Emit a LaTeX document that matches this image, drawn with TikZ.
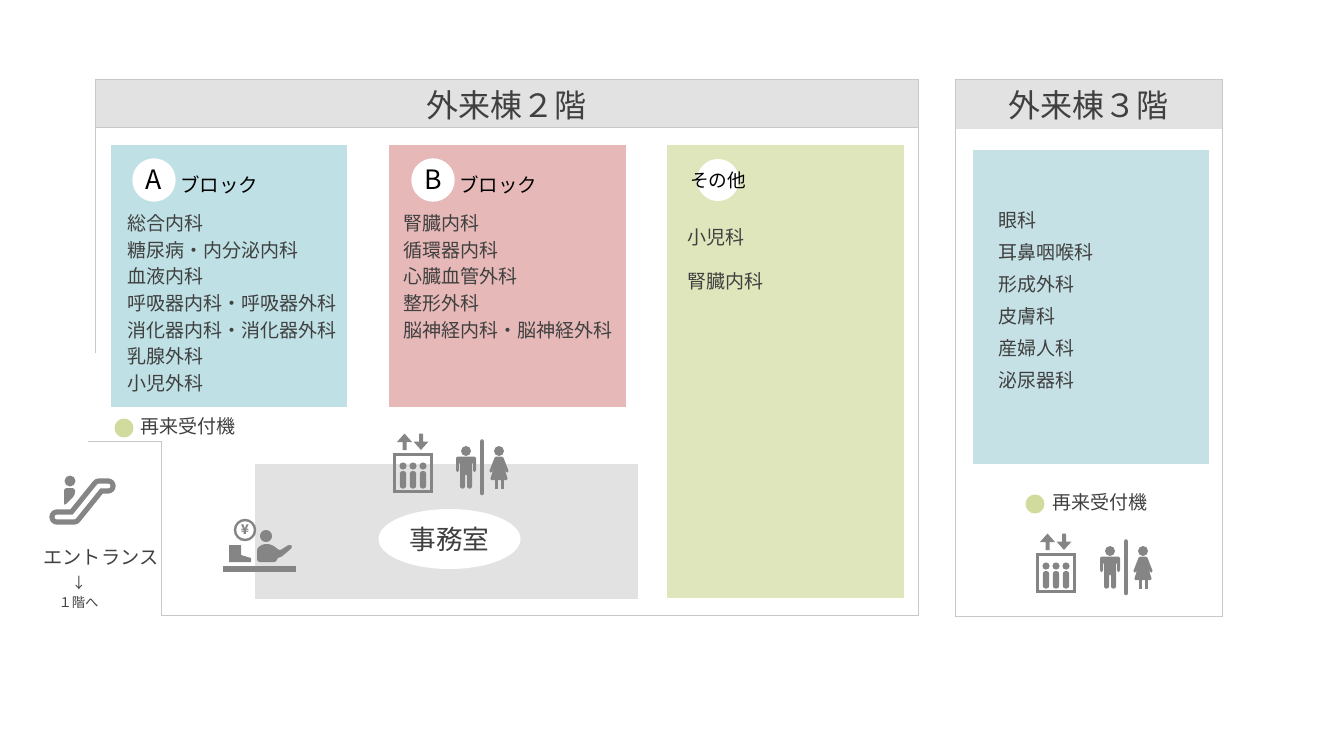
\documentclass[tikz,border=0pt]{standalone}
\usepackage{fontspec}
\usetikzlibrary{shapes.geometric}
\setmainfont{Noto Sans CJK JP}
\definecolor{frameC}{HTML}{C8C8C8}
\definecolor{headC}{HTML}{E2E2E2}
\definecolor{blueC}{HTML}{BFE0E4}
\definecolor{blueD}{HTML}{C5E1E5}
\definecolor{redC}{HTML}{E6B9B8}
\definecolor{greenC}{HTML}{DFE6BC}
\definecolor{dotC}{HTML}{D2DB9E}
\definecolor{iconC}{HTML}{858585}
\definecolor{textC}{HTML}{404040}
\tikzset{
  title/.style={text=textC,inner sep=0pt,font=\fontsize{24}{28}\selectfont},
  item/.style={text=textC,inner sep=0pt,anchor=west,font=\fontsize{14.25}{17}\selectfont},
  blk/.style={text=black,inner sep=0pt,anchor=west,font=\fontsize{14.6}{17}\selectfont},
  letter/.style={circle,fill=white,minimum size=32.5pt,inner sep=0pt,text=black,font=\fontsize{20}{24}\selectfont},
  dotmark/.style={circle,fill=dotC,minimum size=14.2pt,inner sep=0pt},
  frameline/.style={draw=frameC,line width=0.6pt},
}
\newcommand{\elevatoricon}{%
  \draw[iconC,line width=2.4pt] (394.5,454.5) rectangle (431.5,491.5);
  \fill[iconC] (406.5,450) -- (406.5,442) -- (412,442) -- (404.5,433.5) -- (397,442) -- (402.5,442) -- (402.5,450) -- cycle;
  \fill[iconC] (419,433.5) -- (419,441.5) -- (413.5,441.5) -- (421,450) -- (428.5,441.5) -- (423,441.5) -- (423,433.5) -- cycle;
  \foreach \px in {403,413,423}{
    \fill[iconC] (\px,466) circle[radius=3.6];
    \fill[iconC,rounded corners=2] (\px-3.2,471) rectangle (\px+3.2,488.5);
  }
}
\newcommand{\toileticon}{%
  \fill[iconC] (466,451) circle[radius=5];
  \fill[iconC,rounded corners=1.5] (456,456.5) -- (476,456.5) -- (476,472) -- (473,472) -- (473,462) -- (472,462) -- (472,488.5) -- (467,488.5) -- (467,474) -- (465,474) -- (465,488.5) -- (460,488.5) -- (460,462) -- (459,462) -- (459,472) -- (456,472) -- cycle;
  \draw[iconC,line width=3.4pt,line cap=round] (482,441.5) -- (482,493);
  \fill[iconC] (499,451) circle[radius=5];
  \fill[iconC,rounded corners=1] (495,456.5) -- (503,456.5) -- (509,472) -- (506.5,473) -- (504,467) -- (508,480) -- (490,480) -- (494,467) -- (491.5,473) -- (489,472) -- cycle;
  \fill[iconC] (494.5,479) rectangle (497.5,488.5);
  \fill[iconC] (500.5,479) rectangle (503.5,488.5);
}
\begin{document}
\begin{tikzpicture}[x=0.75pt,y=-0.75pt]
\useasboundingbox (0,0) rectangle (1342,736);
% 2F frame
\fill[headC] (95,79) rectangle (918,127);
\draw[frameline] (95,353) -- (95,79) -- (918,79) -- (918,615) -- (161,615) -- (161,441) -- (88,441);
\draw[frameline] (95,127) -- (918,127);
\node[title] (t2) at (506,105.5) {外来棟２階};
% 3F frame
\fill[headC] (955,79) rectangle (1222,129);
\draw[frameline] (955,79) rectangle (1222,616);
\node[title] (t3) at (1088,105.5) {外来棟３階};
% panels
\fill[blueC] (111,145) rectangle (347,407);
\fill[redC] (389,145) rectangle (626,407);
\fill[greenC] (667,145) rectangle (904,598);
\fill[headC] (255,464) rectangle (638,599);
\fill[blueD] (973,150) rectangle (1209,464);
% A block
\node[letter] (la) at (154,180) {A};
\node[blk] (ba) at (180,184.5) {ブロック};
\node[item] (a1) at (127,223) {総合内科};
\node[item] (a2) at (127,250) {糖尿病・内分泌内科};
\node[item] (a3) at (127,276) {血液内科};
\node[item] (a4) at (127,303) {呼吸器内科・呼吸器外科};
\node[item] (a5) at (127,330) {消化器内科・消化器外科};
\node[item] (a6) at (127,356) {乳腺外科};
\node[item] (a7) at (127,383) {小児外科};
% B block
\node[letter] (lb) at (433,180) {B};
\node[blk] (bb) at (459,184.5) {ブロック};
\node[item] (b1) at (403,223) {腎臓内科};
\node[item] (b2) at (403,250) {循環器内科};
\node[item] (b3) at (403,276) {心臓血管外科};
\node[item] (b4) at (403,303) {整形外科};
\node[item] (b5) at (403,330) {脳神経内科・脳神経外科};
% other
\node[letter,minimum size=31.5pt] (lo) at (718,180) {};
\node[blk,font=\fontsize{14}{17}\selectfont] (bo) at (690,180.5) {その他};
\node[item] (o1) at (687,237) {小児科};
\node[item] (o2) at (687,281) {腎臓内科};
% 3F list
\node[item] (c1) at (998,220) {眼科};
\node[item] (c2) at (998,252) {耳鼻咽喉科};
\node[item] (c3) at (998,284) {形成外科};
\node[item] (c4) at (998,316) {皮膚科};
\node[item] (c5) at (998,348) {産婦人科};
\node[item] (c6) at (998,380) {泌尿器科};
% kiosks
\node[dotmark] (d2) at (124,428) {};
\node[item] (k2) at (140,426) {再来受付機};
\node[dotmark] (d3) at (1035,504) {};
\node[item] (k3) at (1052,502) {再来受付機};
% office
\node[ellipse,fill=white,minimum width=106.5pt,minimum height=45pt,inner sep=0pt,text=textC,font=\fontsize{20}{24}\selectfont] (office) at (449.5,539) {事務室};
% icons
\elevatoricon
\toileticon
\begin{scope}[shift={(643,100)}]
\elevatoricon
\end{scope}
\begin{scope}[shift={(644,100)}]
\toileticon
\end{scope}
% escalator
\draw[iconC,line width=11.5pt,line join=round,line cap=round] (57,517) -- (74,517) -- (99,486) -- (108,486);
\draw[white,line width=3.6pt,line join=round,line cap=round] (57,517) -- (74,517) -- (99,486) -- (108,486);
\fill[iconC] (70,481) circle[radius=5.5];
\fill[iconC,rounded corners=2] (64,488) -- (75,488) -- (75,495) -- (64,506) -- cycle;
% cashier
\draw[iconC,line width=1.8pt] (245,530) circle[radius=10];
\node[text=iconC,inner sep=0pt,font=\bfseries\fontsize{10}{11}\selectfont] (yen) at (245,530) {¥};
\fill[iconC] (229,545) -- (241,545) -- (241,555) -- (251,558) -- (251,562) -- (229,562) -- cycle;
\fill[iconC] (266,536) circle[radius=6];
\fill[iconC,rounded corners=2] (257,562) -- (257,548) -- (263,544) -- (270,544) -- (277,548) -- (279,551) -- (290,544) -- (293,547) -- (280,558) -- (277,557) -- (277,562) -- cycle;
\fill[iconC] (223,565.5) rectangle (295.5,571.5);
% entrance
\node[text=textC,inner sep=0pt,font=\fontsize{14.4}{17}\selectfont] (ent) at (101,557) {エントランス};
\node[text=textC,inner sep=0pt,font=\fontsize{11}{13}\selectfont] (arr) at (79,583) {↓};
\node[text=textC,inner sep=0pt,font=\fontsize{10}{12}\selectfont] (fl1) at (78.5,602.5) {１階へ};
\end{tikzpicture}
\end{document}
